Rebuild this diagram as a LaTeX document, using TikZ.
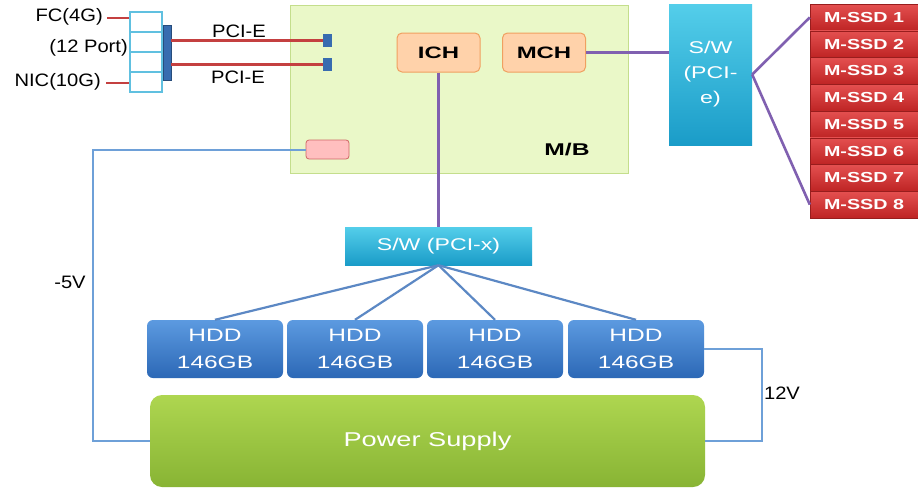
\documentclass[tikz,border=0pt]{standalone}
\usepackage{fontspec}
\setmainfont{Liberation Sans}
\newfontfamily\labelfont[FakeStretch=1.12]{Liberation Sans}
\newfontfamily\boxfont[FakeStretch=1.36]{Liberation Sans}
\newfontfamily\chipfont[FakeStretch=1.45]{Liberation Sans}
\usetikzlibrary{arrows}
\definecolor{mbfill}{RGB}{234,248,200}
\definecolor{mbline}{RGB}{196,222,140}
\definecolor{chipfill}{RGB}{255,210,170}
\definecolor{chipline}{RGB}{240,160,96}
\definecolor{cyantop}{RGB}{84,206,234}
\definecolor{cyanbot}{RGB}{26,156,200}
\definecolor{ssdtop}{RGB}{228,80,80}
\definecolor{ssdbot}{RGB}{190,36,36}
\definecolor{hddtop}{RGB}{92,154,224}
\definecolor{hddbot}{RGB}{44,104,182}
\definecolor{pstop}{RGB}{174,214,80}
\definecolor{psbot}{RGB}{136,180,52}
\definecolor{wirered}{RGB}{196,64,64}
\definecolor{wirepurple}{RGB}{128,96,176}
\definecolor{wireblue}{RGB}{92,136,196}
\definecolor{wirelight}{RGB}{110,160,216}
\definecolor{portline}{RGB}{96,192,224}
\definecolor{jackblue}{RGB}{56,108,176}
\newcommand{\labsize}{\labelfont\fontsize{18}{20}\selectfont}
\def\wirewidth{2.6pt}

\begin{document}
\begin{tikzpicture}[x=1pt, y=-1pt,
    box/.style={draw=none, inner sep=0pt, align=center},
    chip/.style={box, rounded corners=5pt, draw=chipline, fill=chipfill, line width=1pt,
      minimum width=83pt, minimum height=39pt, font=\chipfont\fontsize{16.5}{18}\selectfont\bfseries},
    ssd/.style={box, top color=ssdtop, bottom color=ssdbot, draw=ssdbot!80!black, line width=0.4pt,
      minimum width=108pt, minimum height=26.75pt, text=white, font=\boxfont\fontsize{14.5}{17}\selectfont\bfseries},
    hdd/.style={box, rounded corners=6pt, top color=hddtop, bottom color=hddbot,
      minimum width=136pt, minimum height=58pt, text=white, font=\boxfont\fontsize{18}{27}\selectfont},
    swbox/.style={box, top color=cyantop, bottom color=cyanbot, text=white},
    redwire/.style={draw=wirered, line width=\wirewidth},
    purplewire/.style={draw=wirepurple, line width=\wirewidth},
    bluewire/.style={draw=wireblue, line width=2.2pt},
    powerwire/.style={draw=wirelight, line width=2pt}]
    \useasboundingbox[fill=white] (0,0) rectangle (918,490);
    % main board
    \node[box, draw=mbline, fill=mbfill, line width=1pt, minimum width=338pt, minimum height=168pt] (mb) at (459,89) {};
    \node[box, font=\chipfont\fontsize{17}{18}\selectfont\bfseries] (mblabel) at (567,150) {M/B};
    \node[chip] (ich) at (438.5,52.5) {ICH};
    \node[chip] (mch) at (544,52.5) {MCH};
    \node[box, rounded corners=3pt, draw=wirered!80, fill=red!25, line width=0.8pt, minimum width=43pt, minimum height=19pt] (pink) at (327.5,149.5) {};
    \node[box, fill=jackblue, minimum width=9pt, minimum height=13pt] (jacka) at (327.5,40.5) {};
    \node[box, fill=jackblue, minimum width=9pt, minimum height=13pt] (jackb) at (327.5,64.5) {};
    % network ports
    \node[box, draw=portline, line width=1.6pt, minimum width=32pt, minimum height=80pt] (port) at (146,52) {};
    \foreach \y in {32,52,72}
        \draw[portline, line width=1.6pt] (130,\y) -- (162,\y);
    \node[box, fill=jackblue, draw=jackblue!70!black, minimum width=8pt, minimum height=55pt] (bar) at (167,52.5) {};
    \node[box, anchor=east, font=\labsize] (fc) at (103,17) {FC(4G)};
    \node[box, anchor=east, font=\labsize] (twelve) at (128,48) {(12 Port)};
    \node[box, anchor=east, font=\labsize] (nic) at (101,82) {NIC(10G)};
    \coordinate (fcend) at (107,18);
    \coordinate (nicend) at (106,83);
    \draw[redwire] (fcend) -- (fcend -| port.west);
    \draw[redwire] (nicend) -- (nicend -| port.west);
    \draw[redwire] (bar.east |- jacka) -- (jacka.west);
    \draw[redwire] (bar.east |- jackb) -- (jackb.west);
    \node[box, font=\labsize] (pcia) at (239,31) {PCI-E};
    \node[box, font=\labsize] (pcib) at (238,77) {PCI-E};
    % PCI-e switch and SSDs
    \node[swbox, minimum width=83pt, minimum height=141pt, font=\boxfont\fontsize{17}{25}\selectfont] (swe) at (710.5,74.5) {S/W\\(PCI-\\e)};
    \foreach \i in {1,...,8}
        \node[ssd] (ssd\i) at (864,{4+26.75*(\i-0.5)}) {M-SSD \i};
    \draw[purplewire] (mch.east) -- (swe.west |- mch.east);
    \draw[purplewire] (swe.east) -- (ssd1.west);
    \draw[purplewire] (swe.east) -- (ssd8.west);
    % PCI-x switch and HDDs
    \node[swbox, minimum width=187pt, minimum height=38pt, font=\boxfont\fontsize{17}{19}\selectfont] (swx) at (438.5,246) {S/W (PCI-x)};
    \draw[purplewire] (ich.south) -- (swx.north -| ich.south);
    \node[hdd] (hdd1) at (215,349) {HDD\\146GB};
    \node[hdd] (hdd2) at (355,349) {HDD\\146GB};
    \node[hdd] (hdd3) at (495,349) {HDD\\146GB};
    \node[hdd] (hdd4) at (636,349) {HDD\\146GB};
    \foreach \i in {1,...,4}
        \draw[bluewire] (swx.south) -- (hdd\i.north);
    % power
    \node[box, rounded corners=12pt, top color=pstop, bottom color=psbot, minimum width=555pt, minimum height=92pt,
      text=white, font=\boxfont\fontsize{20}{22}\selectfont] (ps) at (427.5,441) {Power Supply};
    \coordinate (lowleft) at (93,441);
    \coordinate (lowright) at (762,441);
    \draw[powerwire] (pink.west) -| (lowleft) -- (ps.west);
    \draw[powerwire] (hdd4.east) -| (lowright) -- (ps.east);
    \node[box, font=\labsize] (minusfive) at (70,282) {-5V};
    \node[box, font=\labsize] (twelvev) at (782,393) {12V};
\end{tikzpicture}
\end{document}
